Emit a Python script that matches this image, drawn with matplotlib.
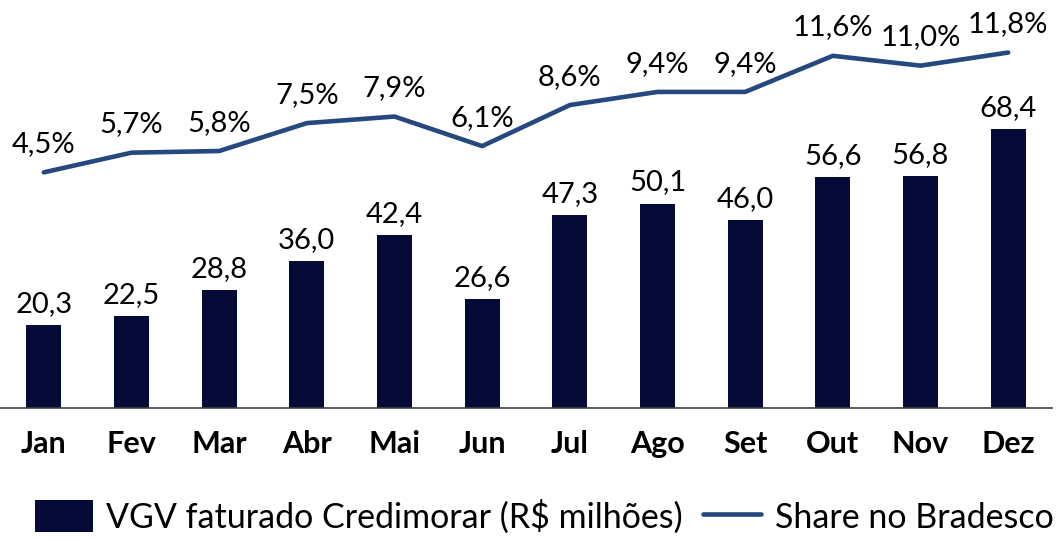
import matplotlib.pyplot as plt

months = ["Jan", "Fev", "Mar", "Abr", "Mai", "Jun", "Jul", "Ago", "Set", "Out", "Nov", "Dez"]
vgv = [20.3, 22.5, 28.8, 36.0, 42.4, 26.6, 47.3, 50.1, 46.0, 56.6, 56.8, 68.4]
share = [4.5, 5.7, 5.8, 7.5, 7.9, 6.1, 8.6, 9.4, 9.4, 11.6, 11.0, 11.8]

BAR_COLOR = "#050a36"
LINE_COLOR = "#25497e"
FONT = "Lato"

plt.rcParams["font.family"] = [FONT, "DejaVu Sans"]

fig = plt.figure(figsize=(10.61, 5.41), dpi=100)
ax = fig.add_axes([0.0, 0.246, 1052 / 1061, 0.754])
x = list(range(len(months)))

bars = ax.bar(x, vgv, width=0.4, color=BAR_COLOR, label="VGV faturado Credimorar (R$ milhões)", zorder=2)
ax.set_xlim(-0.5, 11.5)
ax.set_ylim(0, 100)
for xi, v in zip(x, vgv):
    ax.annotate(f"{v:.1f}".replace(".", ","), (xi, v), xytext=(0, 6), textcoords="offset points",
                ha="center", va="bottom", fontsize=21, color="black")

ax2 = ax.twinx()
ax2.plot(x, share, color=LINE_COLOR, linewidth=3.3, label="Share no Bradesco", solid_capstyle="round", zorder=3)
ax2.set_ylim(-9.85, 15)
for xi, v in zip(x, share):
    ax2.annotate(f"{v:.1f}%".replace(".", ","), (xi, v), xytext=(0, 11), textcoords="offset points",
                 ha="center", va="bottom", fontsize=21, color="black")

for a in (ax, ax2):
    for side in ("top", "right", "left"):
        a.spines[side].set_visible(False)
    a.set_yticks([])
ax2.spines["bottom"].set_visible(False)
ax.spines["bottom"].set_color("#404040")
ax.spines["bottom"].set_linewidth(1.2)

ax.set_xticks(x)
ax.set_xticklabels(months, fontsize=22, fontweight="bold")
ax.tick_params(axis="x", length=0, pad=16)

h1, l1 = ax.get_legend_handles_labels()
h2, l2 = ax2.get_legend_handles_labels()
fig.legend(h1 + h2, l1 + l2, loc="lower left", bbox_to_anchor=(0.02, -0.012), ncol=2, frameon=False,
           fontsize=24.5, handlelength=1.7, handleheight=1.05, columnspacing=0.6, handletextpad=0.4,
           borderaxespad=0.0)

fig.savefig("out.png", dpi=100)
